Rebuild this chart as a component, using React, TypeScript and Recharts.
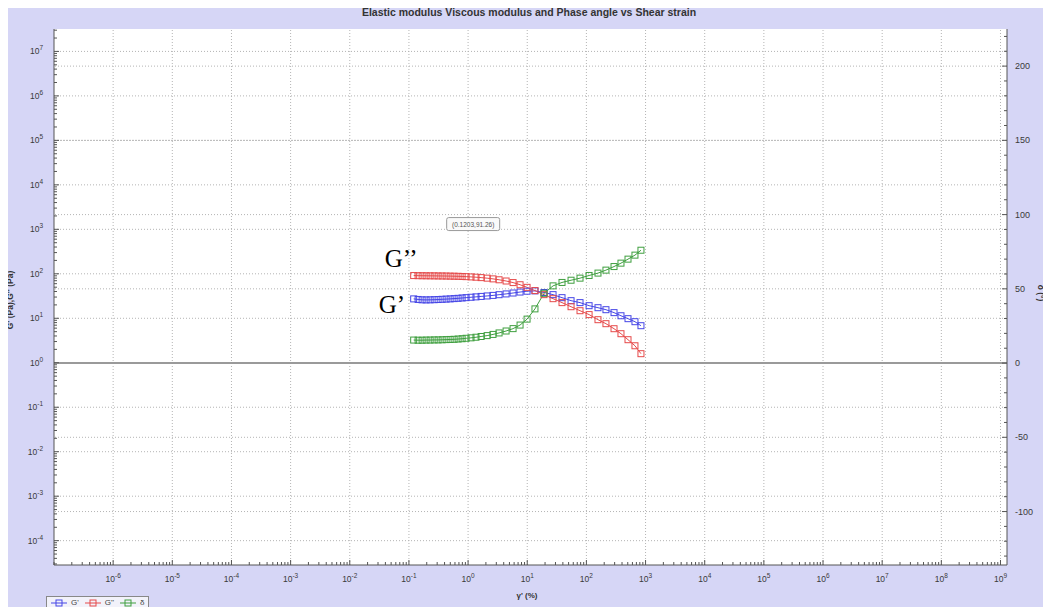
import { LineChart, Line, XAxis, YAxis, ReferenceLine, ReferenceDot, CartesianGrid } from "recharts";

const strain = [
  0.1203, 0.143, 0.167, 0.195, 0.228, 0.267, 0.311, 0.364, 0.425, 0.497,
  0.58, 0.678, 0.792, 0.925, 1.12, 1.36, 1.66, 2.1, 2.64, 3.34,
  4.39, 5.76, 7.56, 9.93, 13.5, 19.2, 27.3, 38.7, 55.0, 78.0,
  111, 157, 214, 293, 384, 505, 662, 836,
];
const gPrime = [
  27.3, 26.5, 26.0, 25.9, 26.0, 26.2, 26.4, 26.7, 27.0, 27.3,
  27.7, 28.1, 28.6, 29.1, 29.7, 30.3, 31.0, 31.8, 32.7, 33.9,
  35.3, 37.0, 38.9, 40.6, 41.3, 38.0, 34.0, 29.1, 24.9, 22.5,
  19.2, 17.3, 15.6, 13.4, 11.4, 9.8, 8.38, 6.81,
];
const gDoublePrime = [
  91.26, 90.8, 90.5, 90.3, 90.1, 89.9, 89.6, 89.4, 89.1, 88.7,
  88.3, 87.8, 87.1, 86.3, 85.2, 83.9, 82.1, 79.8, 76.9, 73.4,
  68.9, 63.5, 56.8, 49.6, 42.0, 34.0, 27.6, 22.5, 18.2, 14.8,
  12.1, 9.3, 7.56, 5.83, 4.5, 3.3, 2.41, 1.6,
];
const phaseAngle = [
  15.5, 15.4, 15.4, 15.5, 15.5, 15.6, 15.6, 15.7, 15.8, 15.9,
  16.0, 16.2, 16.4, 16.7, 17.0, 17.4, 17.9, 18.5, 19.3, 20.3,
  21.6, 23.2, 25.6, 29.6, 36.5, 47.0, 52.0, 54.3, 55.8, 57.2,
  59.0, 60.6, 62.6, 65.0, 67.3, 70.0, 72.7, 76.0,
];

const xExponents = [-6, -5, -4, -3, -2, -1, 0, 1, 2, 3, 4, 5, 6, 7, 8, 9];
const leftExponents = [-4, -3, -2, -1, 0, 1, 2, 3, 4, 5, 6, 7];
const rightMajor = [-100, -50, 0, 50, 100, 150, 200];
const seriesNames = ["G'", "G''", "δ"];
const colors = ["#4646e6", "#e64a4a", "#3f9f3f"];

const xDomain = [Math.pow(10, -7.0), Math.pow(10, 9.11)];
const leftDomain = [Math.pow(10, -4.547), Math.pow(10, 7.504)];
const rightDomain = [-136, 225];

const data = strain.map((s, i) => ({
  strain: s,
  gp: gPrime[i],
  gpp: gDoublePrime[i],
  delta: phaseAngle[i],
}));

function logTicks(lo: number, hi: number) {
  const out: number[] = [];
  for (let e = Math.floor(Math.log10(lo)); e <= Math.ceil(Math.log10(hi)); e++) {
    for (let m = 1; m < 10; m++) {
      const v = m * Math.pow(10, e);
      if (v >= lo && v <= hi) out.push(v);
    }
  }
  return out;
}
const xTicks = logTicks(xDomain[0], xDomain[1]);
const leftTicks = logTicks(leftDomain[0], leftDomain[1]);
const rightTicks: number[] = [];
for (let v = -130; v <= 220; v += 10) rightTicks.push(v);

// exponent if v is one of the labelled decades, else null
const decadeOf = (v: number, list: number[]) => {
  const e = Math.round(Math.log10(v));
  if (Math.abs(Math.log10(v) - e) > 1e-6) return null;
  return list.includes(e) ? e : null;
};
const AX = "#555";
const TXT = "#3a3a3a";
const FONT = "'Liberation Sans', Arial, sans-serif";

const makeXTick = (top: boolean) => (p: any) => {
  const e = decadeOf(p.payload.value, xExponents);
  const major = e !== null;
  const len = major ? 5 : 3;
  return (
    <g>
      <line x1={p.x} x2={p.x} y1={p.y} y2={top ? p.y + len : p.y - len} stroke={AX} />
      {major && !top && (
        <text x={p.x} y={p.y + 17} textAnchor="middle" fontSize={8.5} fill={TXT} fontFamily={FONT}>
          10<tspan dy={-4} fontSize={6.5}>{e}</tspan>
        </text>
      )}
    </g>
  );
};

const LeftTick = (p: any) => {
  const e = decadeOf(p.payload.value, leftExponents);
  const major = e !== null;
  return (
    <g>
      <line x1={p.x} x2={p.x + (major ? 5 : 3)} y1={p.y} y2={p.y} stroke={AX} />
      {major && (
        <text x={p.x - 11} y={p.y + 3} textAnchor="end" fontSize={8.5} fill={TXT} fontFamily={FONT}>
          10<tspan dy={-4} fontSize={6.5}>{e}</tspan>
        </text>
      )}
    </g>
  );
};

const RightTick = (p: any) => {
  const v = p.payload.value;
  const major = rightMajor.includes(v);
  return (
    <g>
      <line x1={p.x} x2={p.x - (major ? 5 : 3)} y1={p.y} y2={p.y} stroke={AX} />
      {major && (
        <text x={p.x + 8} y={p.y + 3} textAnchor="start" fontSize={9} fill={TXT} fontFamily={FONT}>
          {v}
        </text>
      )}
    </g>
  );
};

const squareDot = (color: string) => (p: any) => (
  <rect key={p.index} x={p.cx - 3} y={p.cy - 3} width={6} height={6} fill="none" stroke={color} strokeWidth={1} />
);

const tipLabel = (p: any) => {
  const { x, y } = p.viewBox;
  return (
    <g>
      <rect x={x + 34} y={y - 57} width={53} height={13} rx={2} fill="#fafafa" stroke="#999" />
      <text x={x + 60.5} y={y - 47.5} textAnchor="middle" fontSize={6.5} fill="#555" fontFamily={FONT}>
        ({strain[0]},{gDoublePrime[0]})
      </text>
    </g>
  );
};

const bigLabel = (text: string, dx: number, dy: number) => (p: any) => {
  const { x, y } = p.viewBox;
  return (
    <text x={x + dx} y={y + dy} fontSize={25} fill="#000" fontFamily="'Liberation Serif', 'Times New Roman', serif">
      {text}
    </text>
  );
};

function LegendBox() {
  return (
    <div
      style={{
        position: "absolute",
        left: 46,
        top: 596,
        height: 11,
        padding: "0 4px",
        display: "flex",
        alignItems: "center",
        gap: 6,
        background: "#f2f2fa",
        border: "1px solid #888",
        fontFamily: FONT,
        fontSize: 8,
        lineHeight: "11px",
        color: "#444",
      }}
    >
      {seriesNames.map((n, i) => (
        <span key={n} style={{ display: "flex", alignItems: "center", gap: 4 }}>
          <svg width={16} height={8}>
            <line x1={0} x2={16} y1={4} y2={4} stroke={colors[i]} />
            <rect x={5} y={1} width={6} height={6} fill="none" stroke={colors[i]} />
          </svg>
          {n}
        </span>
      ))}
    </div>
  );
}

export default function App() {
  return (
    <div style={{ position: "relative", width: 1051, height: 615, margin: -8, background: "#d6d6f6" }}>
      <LineChart width={1051} height={615} data={data} margin={{ top: 29, right: 0, bottom: 0, left: 0 }}>
        <CartesianGrid fill="#ffffff" horizontal={false} vertical={false} yAxisId="left" />
        <XAxis
          dataKey="strain"
          type="number"
          scale="log"
          domain={xDomain}
          allowDataOverflow
          ticks={xTicks}
          interval={0}
          tickSize={0}
          tickMargin={0}
          tickLine={false}
          tick={makeXTick(false)}
          height={50}
          stroke={AX}
        />
        <XAxis
          xAxisId="top"
          orientation="top"
          dataKey="strain"
          type="number"
          scale="log"
          domain={xDomain}
          allowDataOverflow
          ticks={xTicks}
          interval={0}
          tickSize={0}
          tickMargin={0}
          tickLine={false}
          tick={makeXTick(true)}
          height={0}
          stroke={AX}
        />
        <YAxis
          yAxisId="left"
          type="number"
          scale="log"
          domain={leftDomain}
          allowDataOverflow
          ticks={leftTicks}
          interval={0}
          tickSize={0}
          tickMargin={0}
          tickLine={false}
          tick={LeftTick}
          width={54}
          stroke={AX}
        />
        <YAxis
          yAxisId="right"
          orientation="right"
          type="number"
          domain={rightDomain}
          allowDataOverflow
          ticks={rightTicks}
          interval={0}
          tickSize={0}
          tickMargin={0}
          tickLine={false}
          tick={RightTick}
          width={44}
          stroke={AX}
        />
        {xExponents.map((e) => (
          <ReferenceLine key={"vx" + e} x={Math.pow(10, e)} yAxisId="left" stroke="#b4b4b4" strokeDasharray="1 2" />
        ))}
        {leftExponents.map((e) => (
          <ReferenceLine key={"hl" + e} y={Math.pow(10, e)} yAxisId="left" stroke="#b4b4b4" strokeDasharray="1 2" />
        ))}
        {rightMajor.map((v) => (
          <ReferenceLine key={"hr" + v} y={v} yAxisId="right" stroke="#b4b4b4" strokeDasharray="1 2" />
        ))}
        <ReferenceLine y={0} yAxisId="right" stroke="#9a9a9a" strokeWidth={2} />
        <Line yAxisId="left" dataKey="gp" name={seriesNames[0]} stroke={colors[0]} strokeWidth={1} dot={squareDot(colors[0])} isAnimationActive={false} />
        <Line yAxisId="left" dataKey="gpp" name={seriesNames[1]} stroke={colors[1]} strokeWidth={1} dot={squareDot(colors[1])} isAnimationActive={false} />
        <Line yAxisId="right" dataKey="delta" name={seriesNames[2]} stroke={colors[2]} strokeWidth={1} dot={squareDot(colors[2])} isAnimationActive={false} />
        <ReferenceDot x={strain[0]} y={gDoublePrime[0]} yAxisId="left" r={1} fill="none" stroke="none" label={tipLabel} />
        <ReferenceDot x={strain[0]} y={gDoublePrime[0]} yAxisId="left" r={1} fill="none" stroke="none" label={bigLabel("G’’", -28, -8)} />
        <ReferenceDot x={strain[0]} y={gPrime[0]} yAxisId="left" r={1} fill="none" stroke="none" label={bigLabel("G’", -34, 15)} />
      </LineChart>
      <svg width={1051} height={615} style={{ position: "absolute", left: 0, top: 0, pointerEvents: "none" }}>
        <text x={529} y={16} textAnchor="middle" fontSize={10.5} fontWeight="bold" fill="#333" fontFamily={FONT}>
          Elastic modulus Viscous modulus and Phase angle vs Shear strain
        </text>
        <text x={527} y={598} textAnchor="middle" fontSize={8} fontWeight="bold" fill="#333" fontFamily={FONT}>
          γ' (%)
        </text>
        <text transform="translate(13,300) rotate(-90)" textAnchor="middle" fontSize={8.5} fontWeight="bold" fill="#333" fontFamily={FONT}>
          G' (Pa),G'' (Pa)
        </text>
        <text transform="translate(1038,293) rotate(90)" textAnchor="middle" fontSize={8.5} fontWeight="bold" fill="#333" fontFamily={FONT}>
          δ (°)
        </text>
      </svg>
      <LegendBox />
    </div>
  );
}
